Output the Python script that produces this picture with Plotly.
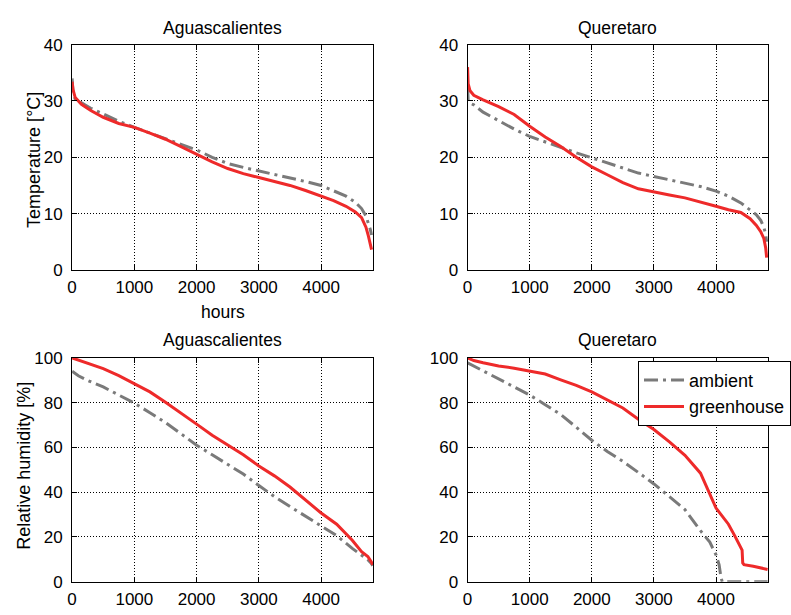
import plotly.graph_objects as go

# ---- data: sorted hourly values (duration curves) ----
# Aguascalientes temperature [°C]
agu_t_hours = [0, 15, 50, 150, 300, 500, 750, 1000, 1250, 1500, 1750, 2000, 2250, 2500,
               2750, 3000, 3250, 3500, 3750, 4000, 4200, 4400, 4550, 4650, 4720, 4760, 4790, 4810]
agu_t_ambient = [34.0, 31.5, 30.3, 29.6, 28.7, 27.7, 26.4, 25.3, 24.3, 23.3, 22.3, 21.3, 20.0, 18.9,
                 18.2, 17.6, 17.0, 16.4, 15.7, 15.0, 14.1, 13.1, 12.0, 10.9, 9.6, 8.4, 7.2, 6.2]
agu_t_greenhouse = [33.4, 32.0, 30.6, 29.4, 28.3, 27.1, 26.0, 25.3, 24.3, 23.2, 21.9, 20.5, 19.2, 18.0,
                    17.1, 16.4, 15.7, 15.0, 14.1, 13.1, 12.3, 11.3, 10.3, 9.3, 7.6, 6.0, 4.5, 3.6]

# Queretaro temperature [°C]
qro_t_hours = [0, 10, 40, 100, 250, 500, 750, 1000, 1250, 1500, 1750, 2000, 2250, 2500,
               2750, 3000, 3250, 3500, 3750, 4000, 4200, 4400, 4550, 4650, 4720, 4770, 4800, 4815]
qro_t_ambient = [32.5, 30.0, 29.6, 29.3, 28.0, 26.5, 25.0, 23.7, 22.7, 21.8, 20.8, 19.9, 19.0, 18.0,
                 17.2, 16.6, 16.0, 15.4, 14.8, 14.0, 13.1, 11.9, 10.7, 9.8, 8.8, 7.6, 6.3, 5.0]
qro_t_greenhouse = [36.0, 33.0, 31.8, 31.0, 30.2, 29.0, 27.6, 25.5, 23.6, 21.9, 20.0, 18.3, 16.9, 15.5,
                    14.4, 13.8, 13.3, 12.8, 12.1, 11.3, 10.7, 10.2, 9.1, 7.9, 6.8, 5.6, 3.9, 2.2]

# Aguascalientes relative humidity [%]
agu_rh_hours = [0, 100, 250, 500, 750, 1000, 1250, 1500, 1750, 2000, 2250, 2500, 2750, 3000,
                3250, 3500, 3750, 4000, 4250, 4500, 4650, 4750, 4800, 4830]
agu_rh_ambient = [94.0, 92.0, 89.9, 87.0, 83.4, 79.8, 75.5, 71.1, 66.1, 61.0, 56.7, 52.4, 48.1, 43.0,
                  38.0, 33.6, 29.3, 25.0, 20.6, 14.9, 12.0, 9.8, 8.4, 7.2]
agu_rh_greenhouse = [100.0, 99.0, 97.8, 95.2, 92.1, 88.5, 84.8, 80.2, 75.5, 70.4, 65.4, 61.0, 56.7, 51.7,
                     47.3, 42.3, 36.5, 30.7, 25.7, 18.5, 13.4, 11.3, 9.1, 7.6]

# Queretaro relative humidity [%]
qro_rh_amb_hours = [0, 100, 250, 500, 750, 1000, 1250, 1500, 1750, 2000, 2250, 2500, 2750, 3000,
                    3250, 3500, 3750, 3900, 4000, 4050, 4080, 4100, 4830]
qro_rh_ambient = [97.8, 96.4, 94.2, 90.6, 87.0, 83.4, 79.1, 74.7, 69.0, 63.2, 58.2, 53.8, 48.8, 43.7,
                  38.0, 32.2, 22.8, 17.7, 12.0, 7.6, 1.9, 0.0, 0.0]
qro_rh_gh_hours = [0, 100, 250, 500, 750, 1000, 1250, 1500, 1750, 2000, 2250, 2500, 2750, 3000,
                   3250, 3500, 3750, 3900, 4000, 4100, 4200, 4300, 4400, 4420, 4430, 4450, 4600, 4750, 4830]
qro_rh_greenhouse = [100.0, 98.8, 97.8, 96.4, 95.4, 94.2, 92.8, 90.2, 87.7, 84.8, 81.2, 77.6, 72.6, 68.0,
                     62.5, 56.5, 48.5, 39.4, 32.9, 29.3, 25.7, 20.6, 15.6, 14.1, 8.4, 7.6, 6.9, 6.2, 5.5]

panel_titles = ["Aguascalientes", "Queretaro", "Aguascalientes", "Queretaro"]
hour_ticks = [0, 1000, 2000, 3000, 4000]
temp_ticks = [0, 10, 20, 30, 40]
rh_ticks = [0, 20, 40, 60, 80, 100]
series_names = ["ambient", "greenhouse"]

# ---- styling ----
W, H = 791, 615
FONT = "Liberation Sans, Arial, Helvetica, sans-serif"
AMB_COLOR = "#7a7a7a"
GH_COLOR = "#ee2a2a"
AMB_DASH = "14px,5px,3px,5px"


def px_x(p):
    return p / W


def px_y(p):
    return 1 - p / H


# plot-area edges in pixels
cols = [(67.7, 371.7), (466.7, 770.0)]
rows = [(36.7, 269.3), (360.0, 591.0)]

fig = go.Figure()

panels = [
    (agu_t_hours, agu_t_ambient, agu_t_hours, agu_t_greenhouse),
    (qro_t_hours, qro_t_ambient, qro_t_hours, qro_t_greenhouse),
    (agu_rh_hours, agu_rh_ambient, agu_rh_hours, agu_rh_greenhouse),
    (qro_rh_amb_hours, qro_rh_ambient, qro_rh_gh_hours, qro_rh_greenhouse),
]

for i, (ha, ya, hg, yg) in enumerate(panels):
    sfx = "" if i == 0 else str(i + 1)
    show = i == 3
    fig.add_trace(go.Scatter(
        x=ha, y=ya, mode="lines", name=series_names[0], showlegend=show,
        line=dict(color=AMB_COLOR, width=3, dash=AMB_DASH),
        xaxis="x" + sfx, yaxis="y" + sfx))
    fig.add_trace(go.Scatter(
        x=hg, y=yg, mode="lines", name=series_names[1], showlegend=show,
        line=dict(color=GH_COLOR, width=3),
        xaxis="x" + sfx, yaxis="y" + sfx))

axis_common = dict(
    showline=True, linecolor="black", linewidth=1, mirror="ticks",
    ticks="inside", ticklen=5, tickcolor="black", tickwidth=1,
    showgrid=True, gridcolor="black", gridwidth=1, griddash="1px,2px",
    zeroline=False, tickfont=dict(family=FONT, size=17, color="black"),
)

layout = dict(
    width=W, height=H, margin=dict(l=0, r=0, t=0, b=0),
    paper_bgcolor="white", plot_bgcolor="white", showlegend=True,
    font=dict(family=FONT, color="black"),
    legend=dict(
        x=px_x(639), y=px_y(363), xanchor="left", yanchor="top",
        bgcolor="white", bordercolor="black", borderwidth=1,
        font=dict(family=FONT, size=18, color="black"),
        tracegroupgap=0, itemwidth=40,
    ),
)

for i in range(4):
    r, c = divmod(i, 2)
    x0, x1 = cols[c]
    y0, y1 = rows[r]
    sfx = "" if i == 0 else str(i + 1)
    layout["xaxis" + sfx] = dict(
        axis_common, domain=[px_x(x0), px_x(x1)], range=[0, 4840],
        tickvals=hour_ticks, anchor="y" + sfx, ticklabelstandoff=2)
    layout["yaxis" + sfx] = dict(
        axis_common, domain=[px_y(y1), px_y(y0)],
        range=[0, 40] if r == 0 else [0, 100],
        tickvals=temp_ticks if r == 0 else rh_ticks, anchor="x" + sfx,
        ticklabelstandoff=5)

fig.update_layout(**layout)

annotations = []
title_baselines = [28.5, 349.5]
for i, t in enumerate(panel_titles):
    r, c = divmod(i, 2)
    x0, x1 = cols[c]
    annotations.append(dict(
        text=t, x=px_x((x0 + x1) / 2), y=px_y(title_baselines[r] + 4),
        xref="paper", yref="paper", xanchor="center", yanchor="bottom",
        showarrow=False, font=dict(family=FONT, size=17.5, color="black")))

annotations.append(dict(
    text="hours", x=px_x(219.7), y=px_y(300), xref="paper", yref="paper",
    xanchor="center", yanchor="top", showarrow=False,
    font=dict(family=FONT, size=17.5, color="black")))
annotations.append(dict(
    text="Temperature [°C]", x=px_x(29), y=px_y(156), xref="paper", yref="paper",
    xanchor="center", yanchor="middle", textangle=-90, showarrow=False,
    font=dict(family=FONT, size=18, color="black")))
annotations.append(dict(
    text="Relative humidity [%]", x=px_x(19.5), y=px_y(471), xref="paper", yref="paper",
    xanchor="center", yanchor="middle", textangle=-90, showarrow=False,
    font=dict(family=FONT, size=18, color="black")))

fig.update_layout(annotations=annotations)

fig.write_html("out.html")
